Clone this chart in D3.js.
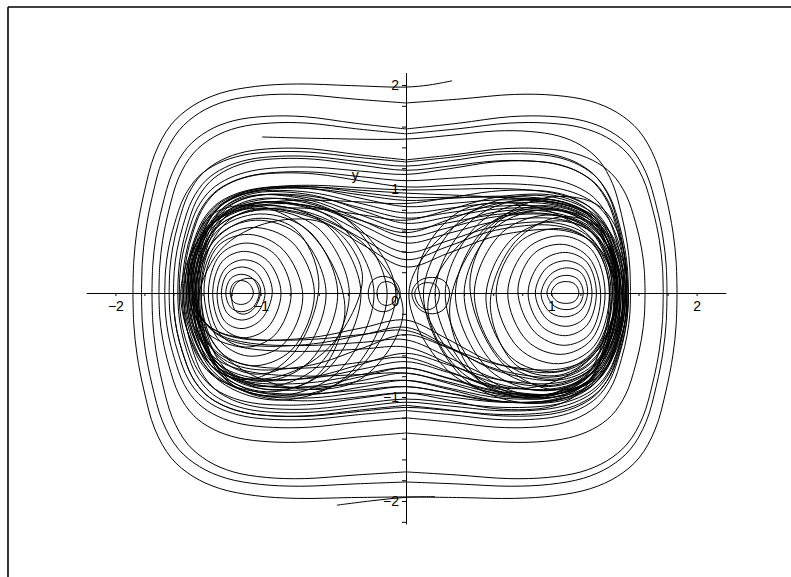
<!DOCTYPE html>
<html>
<head>
<meta charset="utf-8">
<script src="https://cdn.jsdelivr.net/npm/d3@7"></script>
<style>
  html, body { margin: 0; padding: 0; background: #fff; }
  svg { display: block; }
  text { font-family: "Liberation Sans", Arial, Helvetica, sans-serif; font-size: 14px; fill: #000; }
</style>
</head>
<body>
<svg id="chart" width="791" height="577"></svg>
<script>
// ---- axis settings ----
const xDomain = [-2.2, 2.2];
const yDomain = [-2.22, 2.12];
const xLabelled = [-2, -1, 1, 2];
const yLabelled = [-2, -1, 1, 2];

// ---- trajectories ----
// Spirals: alternating axis crossings, [y, bump] on the y axis and plain x on the x axis.
const spiralA = [[1.98, 0.02], -1.879, [-1.96, 0.01], 1.865, [1.827, 0.06], -1.82, [-1.817, 0.03], 1.796,
                 [1.577, 0.10], -1.748, [-1.72, 0.05], 1.77, [1.53, 0.09], -1.70, [-1.346, 0.085], 1.645,
                 [1.28, 0.11], -1.63, [-1.13, 0.10], 1.53];
const spiralALead = [[0.317, 2.04], [0.16, 2.0]];
const spiralB = [[1.48, 0.07], 1.545, [-1.20, 0.10], -1.66, [1.26, 0.10], 1.52, [-1.08, 0.12], -1.60];
const spiralBLead = [[-0.99, 1.50], [-0.55, 1.485]];
const tailFragment = [[-0.475, -2.04], [-0.25, -2.0], [0.0, -1.965], [0.2, -1.958]];

// Loops around both wells:
// [top, bump top-left, bump top-right, left, bottom, bump bottom-left, bump bottom-right, right]
const crossLoops = [
  [1.22, 0.10, 0.12, -1.60, -1.10, 0.10, 0.08, 1.53],
  [1.18, 0.12, 0.10, -1.57, -1.05, 0.12, 0.10, 1.52],
  [1.14, 0.08, 0.14, -1.56, -0.96, 0.15, 0.12, 1.51],
  [1.08, 0.10, 0.06, -1.54, -0.90, 0.10, 0.20, 1.50],
  [1.02, 0.16, 0.04, -1.53, -1.02, 0.12, 0.10, 1.52],
  [0.99, 0.06, 0.02, -1.51, -0.84, 0.10, 0.30, 1.49],
  [0.96, 0.08, -0.05, -1.50, -0.77, 0.05, 0.32, 1.47],
  [0.92, 0.14, 0.00, -1.52, -0.72, 0.25, 0.40, 1.51],
  [0.89, 0.16, 0.06, -1.48, -0.66, 0.30, 0.45, 1.46],
  [0.86, 0.05, 0.18, -1.50, -0.58, 0.50, 0.55, 1.47],
  [0.83, 0.26, 0.10, -1.47, -0.62, 0.20, 0.62, 1.48],
  [0.77, 0.32, 0.16, -1.49, -0.52, 0.10, 0.85, 1.45],
  [0.72, 0.36, 0.20, -1.46, -0.45, 0.15, 1.05, 1.44],
  [0.70, 0.20, 0.40, -1.46, -0.40, 0.90, 0.90, 1.45],
  [0.67, 0.50, 0.26, -1.45, -0.33, 0.60, 1.60, 1.46],
  [0.61, 0.60, 0.30, -1.44, -0.90, 0.15, 0.20, 1.43],
  [0.58, 0.55, 0.60, -1.48, -0.36, 0.30, 1.30, 1.44],
  [0.54, 0.80, 0.45, -1.47, -0.26, 0.80, 2.00, 1.42],
  [0.48, 0.95, 0.55, -1.43, -0.84, 0.20, 0.25, 1.45],
  [0.39, 1.30, 0.80, -1.42, -0.96, 0.10, 0.20, 1.41],
  [0.32, 1.70, 1.10, -1.44, -0.77, 0.25, 0.35, 1.40],
  [0.25, 2.30, 1.50, -1.41, -0.72, 0.30, 0.40, 1.44]
];

// Loops inside one well: [left, right, top, bottom, shear]
const rightWell = [
  [1.00, 1.19, 0.11, -0.10, 0], [0.97, 1.22, 0.17, -0.16, 0], [0.93, 1.25, 0.24, -0.23, 0.1],
  [0.89, 1.28, 0.31, -0.32, 0], [0.84, 1.31, 0.39, -0.41, 0], [0.77, 1.34, 0.47, -0.50, -0.1],
  [0.70, 1.37, 0.55, -0.59, 0], [0.62, 1.40, 0.62, -0.68, 0], [0.55, 1.42, 0.69, -0.76, 0.1],
  [0.47, 1.44, 0.75, -0.83, 0], [0.40, 1.46, 0.80, -0.89, 0], [0.34, 1.48, 0.84, -0.94, 0],
  [0.27, 1.50, 0.88, -0.99, 0], [0.20, 1.51, 0.91, -1.02, 0], [0.12, 1.53, 0.94, -1.06, 0],
  [0.58, 1.45, 0.72, -0.80, 0.25], [0.44, 1.49, 0.82, -0.92, -0.2], [0.30, 1.52, 0.90, -1.00, 0.3],
  [0.08, 1.47, 0.86, -0.98, -0.25], [0.02, 1.50, 0.80, -1.00, 0], [0.15, 1.47, 0.78, -0.92, 0.2]
];
const leftWell = [
  [-1.21, -1.05, 0.12, -0.11, 0], [-1.24, -1.01, 0.18, -0.18, 0], [-1.27, -0.97, 0.25, -0.26, 0],
  [-1.30, -0.92, 0.32, -0.34, 0.1], [-1.33, -0.86, 0.40, -0.43, 0], [-1.36, -0.79, 0.48, -0.52, 0],
  [-1.39, -0.71, 0.56, -0.61, -0.1], [-1.41, -0.63, 0.63, -0.70, 0], [-1.43, -0.55, 0.70, -0.78, 0],
  [-1.45, -0.47, 0.76, -0.85, 0], [-1.47, -0.39, 0.80, -0.90, 0], [-1.49, -0.31, 0.84, -0.95, 0],
  [-1.51, -0.22, 0.88, -0.99, 0], [-1.53, -0.13, 0.91, -1.03, 0], [-1.46, -0.60, 0.72, -0.82, 0.25],
  [-1.50, -0.42, 0.82, -0.93, -0.3], [-1.55, -0.07, 0.86, -1.00, 0], [-1.48, -0.02, 0.78, -0.92, -0.25],
  [-1.44, -0.30, 0.70, -0.80, 0.3], [-1.20, -1.00, 0.14, -0.20, 0.3]
];
const centreLoops = [
  [-0.20, -0.06, 0.11, -0.12, 0], [-0.26, -0.04, 0.16, -0.18, 0],
  [0.06, 0.23, 0.10, -0.16, 0], [0.04, 0.30, 0.15, -0.20, 0]
];

// ---- shape templates ----
// quarter arc from (0, Y) to (X, 0): [u, v, bump weight]
const quarterShape = [
  [0, 1, 0], [0.2, 1, 0.35], [0.4, 1, 0.75], [0.55, 0.985, 0.92], [0.68, 0.95, 1],
  [0.78, 0.89, 0.98], [0.86, 0.8, 0.88], [0.92, 0.66, 0.72], [0.96, 0.47, 0.55],
  [0.985, 0.3, 0.35], [0.997, 0.15, 0.18], [1, 0, 0]
];
// closed well loop, u measured outward from the loop centre
const wellShape = [[1, 0], [0.72, 0.76], [0.1, 1], [-0.6, 0.78], [-1, 0], [-0.6, -0.78], [0.1, -1], [0.72, -0.76]];

const svg = d3.select("#chart");
const x = d3.scaleLinear().domain(xDomain).range([86.3, 725.7]);
const y = d3.scaleLinear().domain(yDomain).range([523.9, 72.5]);

// frame
svg.append("line").attr("x1", 8).attr("y1", 7).attr("x2", 800).attr("y2", 7)
  .attr("stroke", "#000").attr("stroke-width", 1.6);
svg.append("line").attr("x1", 8).attr("y1", 7).attr("x2", 8).attr("y2", 590)
  .attr("stroke", "#000").attr("stroke-width", 1.6);

function quarter(yv, bump, xv) {
  return quarterShape.map(([u, v, w]) => [u * xv, (v + bump * w) * yv]);
}
function join(parts) {
  let pts = [];
  parts.forEach(p => { pts = pts.concat(pts.length ? p.slice(1) : p); });
  return pts;
}
function spiralPoints(seq, lead) {
  const parts = lead ? [lead] : [];
  for (let i = 0; i < seq.length - 1; i++) {
    const a = seq[i], c = seq[i + 1];
    const q = Array.isArray(a) ? quarter(a[0], a[1], c) : quarter(c[0], c[1], a).reverse();
    if (parts.length) q.unshift(parts[parts.length - 1][parts[parts.length - 1].length - 1]);
    parts.push(q);
  }
  return join(parts);
}
function crossPoints([t, btl, btr, l, b, bbl, bbr, r]) {
  const pts = join([
    quarter(t, btl, l),
    quarter(b, bbl, l).reverse(),
    quarter(b, bbr, r),
    quarter(t, btr, r).reverse()
  ]);
  pts.pop();
  return pts;
}
function wellPoints([l, r, t, b, s]) {
  const cx = (l + r) / 2, hw = (r - l) / 2, dir = cx >= 0 ? 1 : -1;
  return wellShape.map(([u, v]) => {
    const px = cx + dir * u * hw;
    return [px, (v >= 0 ? v * t : -v * b) + s * (px - cx)];
  });
}

const open = d3.line().x(d => x(d[0])).y(d => y(d[1])).curve(d3.curveCatmullRom.alpha(0.5));
const closed = d3.line().x(d => x(d[0])).y(d => y(d[1])).curve(d3.curveCatmullRomClosed.alpha(0.5));

const g = svg.append("g").attr("fill", "none").attr("stroke", "#000").attr("stroke-width", 1);

g.append("path").attr("d", open(spiralPoints(spiralA, spiralALead)));
g.append("path").attr("d", open(spiralPoints(spiralB, spiralBLead)));
g.append("path").attr("d", open(tailFragment));

crossLoops.forEach(loop => g.append("path").attr("d", closed(crossPoints(loop))));
leftWell.concat(rightWell, centreLoops).forEach(loop => {
  g.append("path").attr("d", closed(wellPoints(loop)));
});

// ---- axes through the origin ----
const xTicks = d3.range(-20, 21, 2).map(k => k / 10);
const yTicks = d3.range(-22, 22, 2).map(k => k / 10);
const fmt = v => (v < 0 ? "\u2212" : "") + Math.abs(v);

const xAxis = svg.append("g").attr("transform", `translate(0,${y(0)})`)
  .call(d3.axisBottom(x).tickValues(xTicks).tickSize(3).tickPadding(5).tickSizeOuter(0)
    .tickFormat(v => xLabelled.includes(Math.round(v * 10) / 10) ? fmt(v) : ""));
const yAxis = svg.append("g").attr("transform", `translate(${x(0)},0)`)
  .call(d3.axisLeft(y).tickValues(yTicks).tickSize(4).tickPadding(3).tickSizeOuter(0)
    .tickFormat(v => yLabelled.includes(Math.round(v * 10) / 10) ? fmt(v) : ""));
[xAxis, yAxis].forEach(a => {
  a.selectAll("path, line").attr("stroke", "#000").attr("stroke-width", 1);
  a.selectAll("text").attr("font-family", "Liberation Sans, Arial, sans-serif")
    .attr("font-size", 14).attr("fill", "#000");
});

svg.append("text").attr("x", x(0) - 7).attr("y", y(0) + 13).attr("text-anchor", "end").text("0");
svg.append("text").attr("x", x(-0.35)).attr("y", y(1.09)).attr("text-anchor", "middle").text("y");
</script>
</body>
</html>
